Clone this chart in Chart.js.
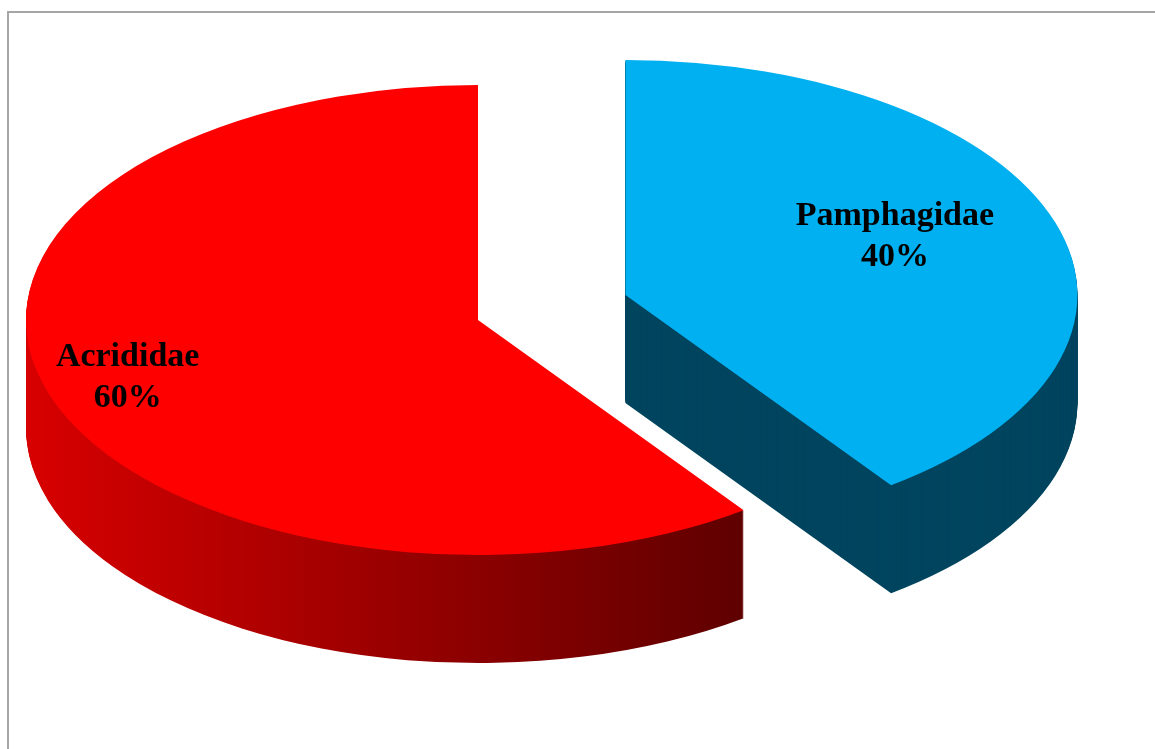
<!DOCTYPE html>
<html>
<head>
<meta charset="utf-8">
<script src="https://cdn.jsdelivr.net/npm/chart.js@4/dist/chart.umd.min.js"></script>
<style>
    html, body { margin: 0; padding: 0; background: #fff; overflow: hidden; }
    #frame {
        position: absolute; left: 7px; top: 11px;
        width: 1300px; height: 900px;
        border: 2px solid #a6a6a6;
    }
    #pie-chart { position: absolute; left: 0; top: 0; }
</style>
</head>
<body>
<div id="frame"></div>
<canvas id="pie-chart" width="1155" height="749"></canvas>
<script>
const families = ['Pamphagidae', 'Acrididae'];
const shares = [40, 60];
const shareLabels = ['40%', '60%'];

const topColors = ['#00b0f0', '#ff0000'];

// Draws the pie as an exploded 3D disc: tilted top faces over stacked side layers
const pie3d = {
    id: 'pie3d',
    beforeDatasetsDraw(chart, args, opts) {
        const ctx = chart.ctx;
        const meta = chart.getDatasetMeta(0);

        const redSide = ctx.createLinearGradient(25, 0, 760, 0);
        redSide.addColorStop(0, '#d80000');
        redSide.addColorStop(0.5, '#990000');
        redSide.addColorStop(1, '#5c0000');
        const sides = ['#00455f', redSide];

        const drawArc = (arc, i, dy, color) => {
            const mid = (arc.startAngle + arc.endAngle) / 2;
            const ex = Math.cos(mid) * opts.explode[i];
            const ey = Math.sin(mid) * opts.explode[i];
            ctx.save();
            ctx.translate(0, dy);
            ctx.translate(arc.x, arc.y);
            ctx.scale(1, opts.tilt);
            ctx.translate(-arc.x + ex, -arc.y + ey);
            const orig = arc.options;
            const o = Object.create(orig);
            o.backgroundColor = color;
            o.borderWidth = 0;
            arc.options = o;
            arc.draw(ctx);
            arc.options = orig;
            ctx.restore();
        };

        for (let d = opts.depth; d > 0; d--) {
            meta.data.forEach((arc, i) => drawArc(arc, i, d, sides[i]));
        }
        meta.data.forEach((arc, i) => drawArc(arc, i, 0, topColors[i]));
        return false;
    },
    afterDraw(chart, args, opts) {
        const ctx = chart.ctx;
        const meta = chart.getDatasetMeta(0);
        ctx.save();
        ctx.font = 'bold 34px "Liberation Serif", "Times New Roman", serif';
        ctx.fillStyle = '#000';
        ctx.textAlign = 'center';
        ctx.textBaseline = 'middle';
        meta.data.forEach((arc, i) => {
            const mid = (arc.startAngle + arc.endAngle) / 2;
            const r = arc.outerRadius * opts.labelAt[i] + opts.explode[i];
            const x = arc.x + Math.cos(mid) * r;
            const y = arc.y + Math.sin(mid) * r * opts.tilt + opts.labelLift[i];
            ctx.fillText(families[i], x, y - 20);
            ctx.fillText(shareLabels[i], x, y + 21);
        });
        ctx.restore();
    }
};

function renderChart() {
    const ctx = document.getElementById('pie-chart').getContext('2d');
    window.myChart = new Chart(ctx, {
        type: 'pie',
        data: {
            labels: families,
            datasets: [{
                data: shares,
                backgroundColor: topColors,
                borderWidth: 0,
                clip: false
            }]
        },
        options: {
            responsive: false,
            animation: false,
            radius: 452,
            layout: { padding: { left: 0, top: 0, right: 199, bottom: 109 } },
            plugins: {
                legend: { display: false },
                tooltip: { enabled: false },
                pie3d: {
                    tilt: 0.52,
                    depth: 108,
                    explode: [155, 0],
                    labelAt: [0.627, 0.815],
                    labelLift: [-13, -2]
                }
            }
        },
        plugins: [pie3d]
    });
}

renderChart();
</script>
</body>
</html>
